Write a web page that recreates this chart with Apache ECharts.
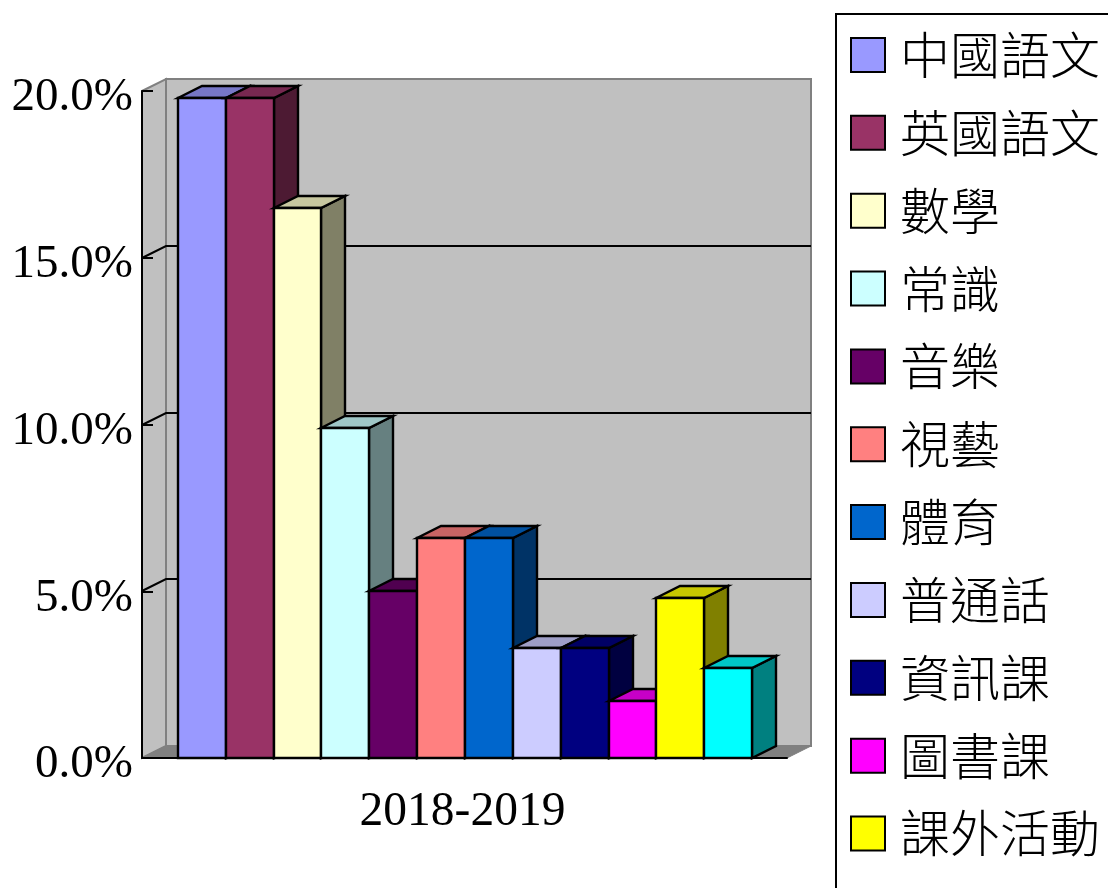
<!DOCTYPE html>
<html>
<head>
<meta charset="utf-8">
<title>2018-2019</title>
<script src="https://cdn.jsdelivr.net/npm/echarts@6/dist/echarts.min.js"></script>
<style>
    html, body { margin: 0; padding: 0; background: #fff; }
    #chart { width: 1108px; height: 888px; }
</style>
</head>
<body>
<div id="chart"></div>
<script>
var years = ['2018-2019'];
// the 12th legend row falls off the bottom of the picture, so only 11 names can be read
var subjects = ['中國語文', '英國語文', '數學', '常識', '音樂', '視藝', '體育', '普通話', '資訊課', '圖書課', '課外活動', '其他'];
var shares = [19.8, 19.8, 16.5, 9.9, 5.0, 6.6, 6.6, 3.3, 3.3, 1.7, 4.8, 2.7];
var colors = ['#9999FF', '#993366', '#FFFFCC', '#CCFFFF', '#660066', '#FF8080', '#0066CC', '#CCCCFF', '#000080', '#FF00FF', '#FFFF00', '#00FFFF'];
var yTicks = [0, 5, 10, 15, 20];

var depthX = 24;
var depthY = 12;
var barsShare = 0.89; // part of the category band the bars take up

function shade(hex, k) {
    var n = parseInt(hex.slice(1), 16);
    var r = Math.round((n >> 16 & 255) * k);
    var g = Math.round((n >> 8 & 255) * k);
    var b = Math.round((n & 255) * k);
    return 'rgb(' + r + ',' + g + ',' + b + ')';
}

function poly(points, fill, stroke, width) {
    return {
        type: 'polygon',
        shape: { points: points },
        style: { fill: fill, stroke: stroke, lineWidth: width, lineJoin: 'miter' }
    };
}

function renderWalls(params, api) {
    var c = params.coordSys;
    var l = c.x, r = c.x + c.width, t = c.y, b = c.y + c.height;
    var items = [
        poly([[l, t], [l + depthX, t - depthY], [l + depthX, b - depthY], [l, b]], '#C0C0C0', '#808080', 2),
        poly([[l + depthX, t - depthY], [r + depthX, t - depthY], [r + depthX, b - depthY], [l + depthX, b - depthY]], '#C0C0C0', '#808080', 2),
        poly([[l, b], [r, b], [r + depthX, b - depthY], [l + depthX, b - depthY]], '#808080', '#808080', 1)
    ];
    yTicks.forEach(function (tick) {
        if (tick === 0 || tick === 20) return;
        var y = Math.round(api.coord([0, tick])[1]);
        items.push({
            type: 'polyline',
            shape: { points: [[l, y], [l + depthX, y - depthY], [r + depthX, y - depthY]] },
            style: { fill: null, stroke: '#000', lineWidth: 2 }
        });
    });
    return { type: 'group', children: items };
}

function renderBar(index) {
    return function (params, api) {
        var top = api.coord([api.value(0), api.value(1)]);
        var base = api.coord([api.value(0), 0]);
        var band = api.size([1, 0])[0];
        var w = band * barsShare / subjects.length;
        var start = top[0] - w * subjects.length / 2 + 0.5;
        var x0 = Math.round(start + w * index);
        var x1 = Math.round(start + w * (index + 1));
        var y0 = Math.round(top[1]);
        var y1 = Math.round(base[1]);
        var c = colors[index];
        return {
            type: 'group',
            children: [
                poly([[x1, y0], [x1 + depthX, y0 - depthY], [x1 + depthX, y1 - depthY], [x1, y1]], shade(c, 0.5), '#000', 2.4),
                poly([[x0, y0], [x0 + depthX, y0 - depthY], [x1 + depthX, y0 - depthY], [x1, y0]], shade(c, 0.78), '#000', 2.4),
                poly([[x0, y0], [x1, y0], [x1, y1], [x0, y1]], c, '#000', 2.4)
            ]
        };
    };
}

var chart = echarts.init(document.getElementById('chart'));

var series = [{
    name: 'walls',
    type: 'custom',
    silent: true,
    z: 1,
    renderItem: renderWalls,
    data: [[years[0], 0]],
    encode: { x: 0, y: 1 }
}];
subjects.forEach(function (name, i) {
    series.push({
        name: name,
        type: 'custom',
        z: 4,
        renderItem: renderBar(i),
        itemStyle: { color: colors[i] },
        data: [[years[0], shares[i]]],
        encode: { x: 0, y: 1 }
    });
});

var option = {
    animation: false,
    backgroundColor: '#fff',
    grid: {
        left: 142,
        right: 321,
        top: 91,
        bottom: 130
    },
    graphic: [{
        type: 'rect',
        z: 0,
        shape: { x: 836, y: 14, width: 300, height: 900 },
        style: { fill: '#fff', stroke: '#000', lineWidth: 2 }
    }],
    legend: {
        orient: 'vertical',
        left: 850,
        top: 30,
        padding: 0,
        data: subjects.slice(0, 11),
        icon: 'rect',
        itemWidth: 34,
        itemHeight: 34,
        itemGap: 27.85,
        itemStyle: { borderColor: '#000', borderWidth: 2 },
        textStyle: {
            fontFamily: '"Noto Sans CJK TC"',
            fontSize: 50,
            fontWeight: 300,
            lineHeight: 34,
            color: '#000',
            padding: [6, 0, 0, 10]
        }
    },
    xAxis: {
        type: 'category',
        data: years,
        z: 5,
        axisLine: { lineStyle: { color: '#000', width: 2 } },
        axisTick: { show: false },
        axisLabel: {
            fontFamily: '"Liberation Serif"',
            fontSize: 47.5,
            color: '#000',
            margin: 31,
            padding: [0, 4, 0, 0]
        }
    },
    yAxis: {
        type: 'value',
        min: 0,
        max: 20,
        interval: 5,
        z: 3,
        splitLine: { show: false },
        axisLine: { show: true, lineStyle: { color: '#000', width: 2 } },
        axisTick: { show: true, inside: true, length: 11, lineStyle: { color: '#000', width: 2 } },
        axisLabel: {
            fontFamily: '"Liberation Serif"',
            fontSize: 47,
            color: '#000',
            margin: 9,
            verticalAlign: 'top',
            lineHeight: 14,
            formatter: function (v) { return v.toFixed(1) + '%'; }
        }
    },
    series: series
};
chart.setOption(option);
</script>
</body>
</html>
